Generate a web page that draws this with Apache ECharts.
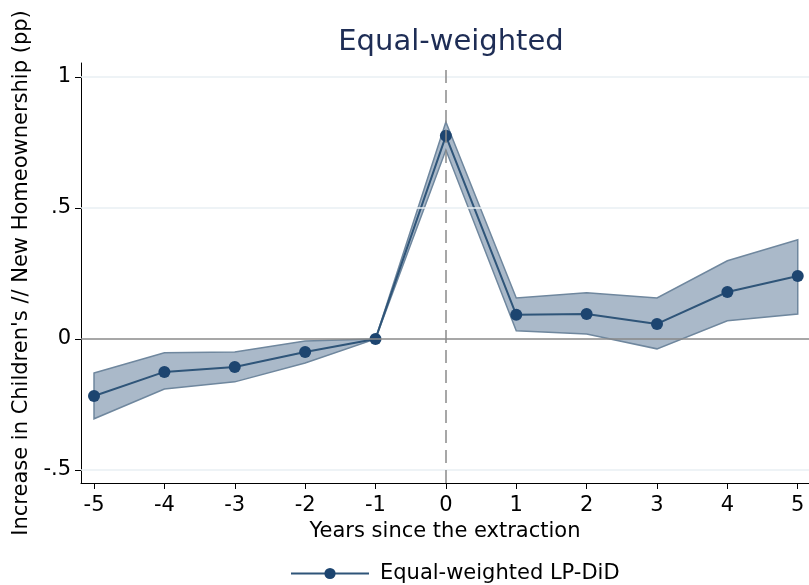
<!DOCTYPE html>
<html><head><meta charset="utf-8">
<script src="https://cdn.jsdelivr.net/npm/echarts@6/dist/echarts.min.js"></script>
<style>html,body{margin:0;padding:0;background:#fff}#c{width:809px;height:585px}</style>
</head><body><div id="c"></div>
<script>
var years = [-5,-4,-3,-2,-1,0,1,2,3,4,5];
var estimate = [-0.218,-0.126,-0.107,-0.050,0,0.775,0.092,0.095,0.057,0.179,0.240];
var upperCI = [-0.130,-0.053,-0.050,-0.008,0,0.828,0.156,0.176,0.156,0.298,0.378];
var lowerCI = [-0.305,-0.191,-0.164,-0.092,0,0.721,0.031,0.019,-0.038,0.069,0.095];
var xTicks = [-5,-4,-3,-2,-1,0,1,2,3,4,5];
var yTicks = [-0.5,0,0.5,1];
var yTickLabels = ['-.5','0','.5','1'];

var font = 'DejaVu Sans';
var bandPts = [];
years.forEach(function(x,i){ bandPts.push([x, upperCI[i]]); });
for (var i = years.length-1; i >= 0; i--) bandPts.push([years[i], lowerCI[i]]);

var chart = echarts.init(document.getElementById('c'));
chart.setOption({
  animation:false,
  title:{text:'Equal-weighted', left:446, textAlign:'center', top:23,
    textStyle:{fontFamily:font, fontWeight:'normal', fontSize:29, color:'#1e2d55'}},
  grid:{left:81, right:0, top:63, bottom:102},
  legend:{top:558, left:285, itemWidth:78, itemHeight:14, itemGap:10,
    data:['Equal-weighted LP-DiD'],
    textStyle:{fontFamily:font, fontSize:21, color:'#000', padding:[0,0,0,6]}},
  xAxis:{type:'value', min:-5.185, max:5.16,
    name:'Years since the extraction', nameLocation:'middle', nameGap:31,
    nameTextStyle:{fontFamily:font, fontSize:21, color:'#000'},
    axisLine:{onZero:false, lineStyle:{color:'#000', width:1}},
    axisTick:{show:true, length:6, customValues:xTicks, lineStyle:{color:'#000'}},
    axisLabel:{customValues:xTicks, fontFamily:font, fontSize:21, color:'#000', margin:12},
    splitLine:{show:false}},
  yAxis:{type:'value', min:-0.55, max:1.053,
    name:"Increase in Children's // New Homeownership (pp)", nameLocation:'middle', nameGap:48,
    nameTextStyle:{fontFamily:font, fontSize:21, color:'#000'},
    axisLine:{show:true, onZero:false, lineStyle:{color:'#000', width:1}},
    axisTick:{show:true, length:6, customValues:yTicks, lineStyle:{color:'#000'}},
    axisLabel:{customValues:yTicks, fontFamily:font, fontSize:21, color:'#000', margin:10,
      formatter:function(v){ var k = yTicks.indexOf(v); return k>=0 ? yTickLabels[k] : ''; }},
    splitLine:{show:false}},
  series:[
    {type:'custom', name:'CI', silent:true, z:2,
      data:[0],
      renderItem:function(params, api){
        var pts = bandPts.map(function(p){ return api.coord(p); });
        return {type:'polygon', shape:{points:pts},
          style:{fill:'rgba(85,115,148,0.5)', stroke:'#6f879e', lineWidth:1.5}};
      }},
    {type:'line', name:'Equal-weighted LP-DiD', z:3,
      data:years.map(function(x,i){ return [x, estimate[i]]; }),
      symbol:'circle', symbolSize:12, showSymbol:true,
      lineStyle:{color:'#2f5579', width:2},
      itemStyle:{color:'#1d4570'},
      markLine:{silent:true, symbol:'none', label:{show:false}, animation:false,
        data:[
          {yAxis:1, lineStyle:{color:'#e8eff3', type:'solid', width:1.5}},
          {yAxis:0.5, lineStyle:{color:'#e8eff3', type:'solid', width:1.5}},
          {yAxis:-0.5, lineStyle:{color:'#e8eff3', type:'solid', width:1.5}},
          {yAxis:0, lineStyle:{color:'#8a8a8a', type:'solid', width:1.5}},
          {xAxis:0, lineStyle:{color:'#8a8a8a', type:[13,7], width:1.5}}
        ]}}
  ]
});
</script></body></html>
